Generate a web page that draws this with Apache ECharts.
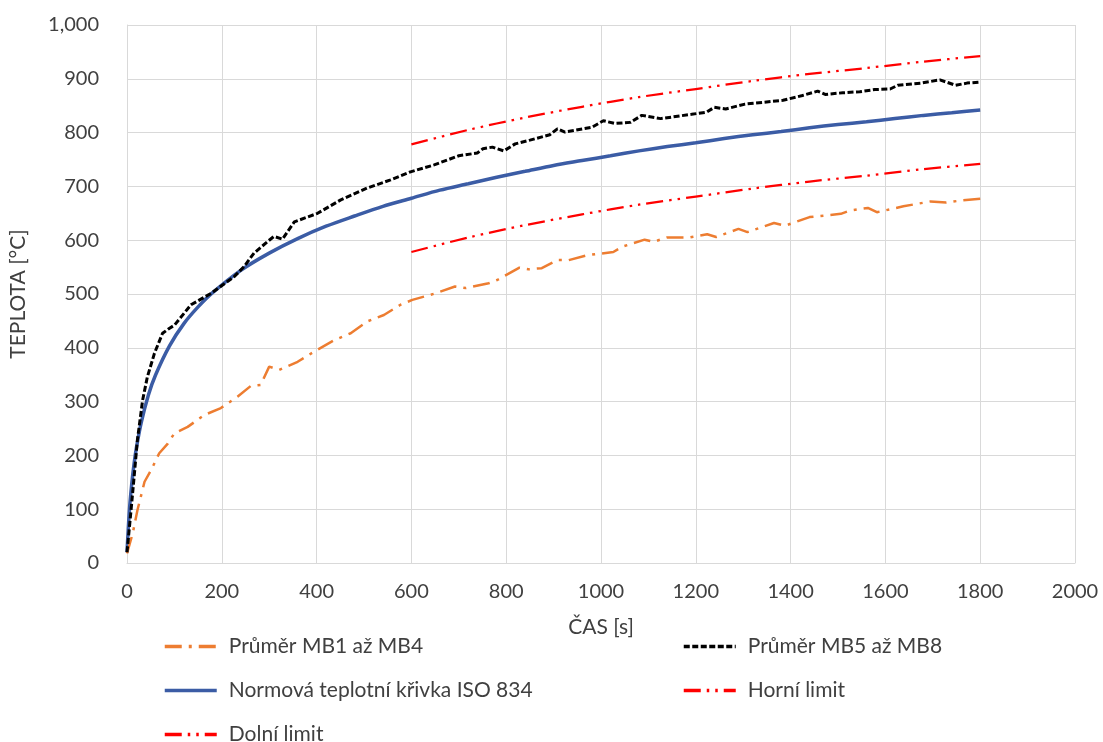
<!DOCTYPE html>
<html>
<head>
<meta charset="utf-8">
<script src="https://cdn.jsdelivr.net/npm/echarts@6/dist/echarts.min.js"></script>
<style>
	html, body { margin: 0; padding: 0; background: #fff; }
	#chart { width: 1103px; height: 742px; }
</style>
</head>
<body>
<div id="chart"></div>
<script>
	// Průměr MB1 až MB4 (orange)
	var mb1Time = [0, 12, 22, 37, 51, 68, 86, 100, 128, 163, 198, 233, 261, 282, 300, 321, 360, 395, 437, 472, 507, 542, 577, 602, 650, 692, 715, 763, 781, 828, 847, 875, 908, 932, 970, 1026, 1045, 1092, 1111, 1139, 1186, 1224, 1243, 1290, 1309, 1365, 1389, 1440, 1506, 1525, 1563, 1582, 1638, 1695, 1728, 1761, 1800]
	var mb1Temp = [18, 55, 98, 151, 173, 204, 222, 241, 253, 275, 288, 309, 329, 331, 365, 359, 374, 393, 414, 427, 449, 461, 480, 489, 501, 514, 511, 520, 526, 549, 546, 548, 563, 563, 572, 578, 588, 601, 597, 605, 605, 611, 606, 621, 615, 632, 627, 643, 649, 655, 660, 652, 663, 672, 670, 674, 677]

	// Průměr MB5 až MB8 (black)
	var mb5Time = [0, 8, 15, 22, 33, 43, 58, 75, 89, 100, 135, 177, 226, 247, 268, 296, 310, 328, 353, 402, 451, 507, 556, 598, 648, 700, 739, 751, 771, 795, 819, 850, 892, 908, 924, 981, 1005, 1029, 1062, 1086, 1126, 1191, 1223, 1239, 1263, 1304, 1340, 1384, 1425, 1457, 1473, 1510, 1546, 1578, 1610, 1626, 1675, 1715, 1748, 1772, 1800]
	var mb5Temp = [20, 93, 160, 229, 303, 346, 390, 427, 436, 442, 480, 501, 532, 551, 576, 597, 607, 602, 634, 650, 675, 697, 712, 727, 740, 757, 762, 770, 773, 766, 779, 786, 796, 807, 801, 810, 822, 817, 819, 832, 826, 834, 838, 847, 844, 853, 856, 860, 869, 877, 871, 874, 876, 880, 881, 888, 892, 898, 888, 892, 894]

	// Normová teplotní křivka ISO 834
	var isoTime = [0, 5, 10, 15, 20, 30, 45, 60, 90, 120, 150, 180, 240, 300, 360, 420, 480, 540, 600, 660, 720, 780, 840, 900, 960, 1020, 1080, 1140, 1200, 1260, 1320, 1380, 1440, 1500, 1560, 1620, 1680, 1740, 1800]
	var isoTemp = [20, 97, 147, 185, 215, 261, 312, 349, 404, 445, 476, 502, 544, 576, 603, 626, 645, 663, 678, 693, 705, 717, 728, 739, 748, 757, 766, 774, 781, 789, 796, 802, 809, 815, 820, 826, 832, 837, 842]

	// Horní / Dolní limit
	var limitTime = [600, 720, 840, 960, 1080, 1200, 1320, 1440, 1560, 1680, 1800]
	var upperTemp = [778, 805, 828, 848, 866, 881, 896, 909, 920, 932, 942]
	var lowerTemp = [578, 605, 628, 648, 666, 681, 696, 709, 720, 732, 742]

	var xTicks = [0, 200, 400, 600, 800, 1000, 1200, 1400, 1600, 1800, 2000]

	function pairs(xs, ys) {
		return xs.map(function (x, i) { return [x, ys[i]] })
	}

	var font = 'Lato'
	var textColor = '#404040'

	function legendAt(name, left, top) {
		return {
			data: [name],
			left: left,
			top: top,
			padding: 0,
			orient: 'horizontal',
			itemWidth: 52,
			itemHeight: 14,
			itemStyle: { opacity: 0 },
			lineStyle: { width: 3.5 },
			textStyle: {
				fontFamily: font,
				fontSize: 21,
				color: textColor,
				padding: [0, 0, 0, 7]
			}
		}
	}

	var option = {
		animation: false,
		backgroundColor: '#fff',
		grid: {
			left: 126,
			right: 28,
			top: 25,
			bottom: 179,
			containLabel: false
		},
		legend: [
			legendAt('Průměr MB1 až MB4', 163, 636),
			legendAt('Průměr MB5 až MB8', 682, 636),
			legendAt('Normová teplotní křivka ISO 834', 163, 680),
			legendAt('Horní limit', 682, 680),
			legendAt('Dolní limit', 163, 724)
		],
		xAxis: {
			type: 'value',
			min: 0,
			max: 2000,
			interval: 200,
			name: 'ČAS [s]',
			nameLocation: 'middle',
			nameGap: 54,
			nameTextStyle: { fontFamily: font, fontSize: 21, color: textColor },
			axisLine: { show: true, lineStyle: { color: '#d9d9d9', width: 1 } },
			axisTick: { show: false },
			axisLabel: {
				margin: 19,
				fontFamily: font,
				fontSize: 20,
				color: textColor,
				formatter: function (v) { return xTicks.indexOf(v) >= 0 ? String(v) : '' }
			},
			splitLine: { show: true, lineStyle: { color: '#d9d9d9', width: 1 } }
		},
		yAxis: {
			type: 'value',
			min: 0,
			max: 1000,
			interval: 100,
			name: 'TEPLOTA [°C]',
			nameLocation: 'middle',
			nameGap: 98,
			nameRotate: 90,
			nameTextStyle: { fontFamily: font, fontSize: 21, color: textColor },
			axisLine: { show: true, lineStyle: { color: '#d9d9d9', width: 1 } },
			axisTick: { show: false },
			axisLabel: {
				margin: 28,
				fontFamily: font,
				fontSize: 20,
				color: textColor,
				formatter: function (v) { return v.toLocaleString('en-US') }
			},
			splitLine: { show: true, lineStyle: { color: '#d9d9d9', width: 1 } }
		},
		series: [
			{
				name: 'Průměr MB1 až MB4',
				type: 'line',
				data: pairs(mb1Time, mb1Temp),
				symbol: 'none',
				color: '#ED7D31',
				lineStyle: { color: '#ED7D31', width: 2.5, type: [17, 7, 3, 7] },
				z: 3
			},
			{
				name: 'Průměr MB5 až MB8',
				type: 'line',
				data: pairs(mb5Time, mb5Temp),
				symbol: 'none',
				color: '#000000',
				lineStyle: { color: '#000000', width: 3, type: [6, 2.5] },
				z: 4
			},
			{
				name: 'Normová teplotní křivka ISO 834',
				type: 'line',
				data: pairs(isoTime, isoTemp),
				symbol: 'none',
				smooth: 0.3,
				color: '#3B5CA5',
				lineStyle: { color: '#3B5CA5', width: 3.5 },
				z: 2
			},
			{
				name: 'Horní limit',
				type: 'line',
				data: pairs(limitTime, upperTemp),
				symbol: 'none',
				smooth: 0.3,
				color: '#FF0000',
				lineStyle: { color: '#FF0000', width: 2.25, type: [17, 6, 2.5, 6, 2.5, 6] },
				z: 3
			},
			{
				name: 'Dolní limit',
				type: 'line',
				data: pairs(limitTime, lowerTemp),
				symbol: 'none',
				smooth: 0.3,
				color: '#FF0000',
				lineStyle: { color: '#FF0000', width: 2.25, type: [17, 6, 2.5, 6, 2.5, 6] },
				z: 3
			}
		]
	}

	var chart = echarts.init(document.getElementById('chart'), null, { renderer: 'canvas' })
	chart.setOption(option)
	window.addEventListener('resize', function () { chart.resize() })
</script>
</body>
</html>
